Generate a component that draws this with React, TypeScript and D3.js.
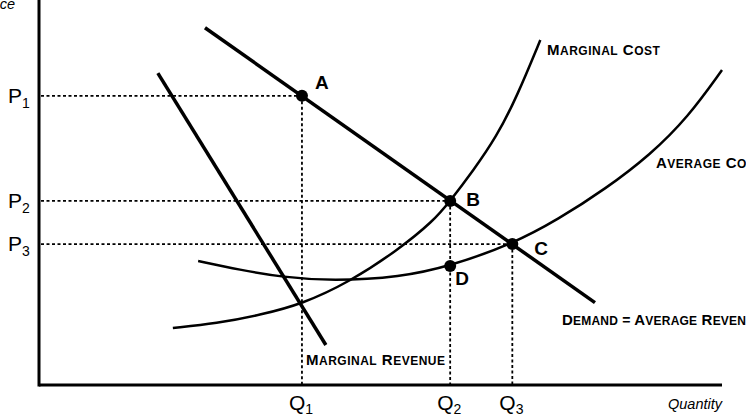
import React from "react";
import * as d3 from "d3";

const W = 746;
const H = 416;

// Economic units (quantity 0..10, price 0..10)
const quantityTicks = [
  { name: "Q", sub: "1", q: 3.85 },
  { name: "Q", sub: "2", q: 6.02 },
  { name: "Q", sub: "3", q: 6.93 },
];
const priceTicks = [
  { name: "P", sub: "1", p: 7.51 },
  { name: "P", sub: "2", p: 4.78 },
  { name: "P", sub: "3", p: 3.66 },
];
const pointD = 3.09;

const demandLine: [number, number][] = [
  [2.43, 9.28],
  [8.14, 2.14],
];
const marginalRevenue: [number, number][] = [
  [1.74, 8.1],
  [4.2, 1.04],
];
const marginalCost: [number, number][] = [
  [1.96, 1.48],
  [2.6, 1.6],
  [3.24, 1.82],
  [3.85, 2.1],
  [4.55, 2.68],
  [5.25, 3.5],
  [5.77, 4.25],
  [6.02, 4.78],
  [6.35, 5.55],
  [6.7, 6.45],
  [7.0, 7.5],
  [7.34, 8.96],
];
const averageCost: [number, number][] = [
  [2.33, 3.22],
  [2.94, 2.99],
  [3.57, 2.8],
  [4.3, 2.7],
  [5.29, 2.8],
  [6.02, 3.09],
  [6.93, 3.66],
  [7.6, 4.3],
  [8.3, 5.1],
  [8.95, 5.98],
  [9.5, 6.95],
  [10.0, 8.18],
];

const x = d3.scaleLinear().domain([0, 10]).range([39, 722]);
const y = d3.scaleLinear().domain([0, 10]).range([385, 0]);

const straight = d3
  .line<[number, number]>()
  .x((d) => x(d[0]))
  .y((d) => y(d[1]));
const smooth = d3
  .line<[number, number]>()
  .x((d) => x(d[0]))
  .y((d) => y(d[1]))
  .curve(d3.curveBasis);

const FONT = "'Liberation Sans', Arial, Helvetica, sans-serif";

function SmallCaps({
  text,
  x,
  y,
  spacing = 0.5,
}: {
  text: string;
  x: number;
  y: number;
  spacing?: number;
}) {
  const words = text.split(" ");
  const parts: React.ReactNode[] = [];
  words.forEach((w, i) => {
    const prefix = i > 0 ? " " : "";
    if (w === "=") {
      parts.push(
        <tspan key={i} fontSize={14}>
          {prefix + "="}
        </tspan>
      );
    } else {
      parts.push(
        <tspan key={i + "a"} fontSize={15}>
          {prefix + w[0].toUpperCase()}
        </tspan>
      );
      parts.push(
        <tspan key={i + "b"} fontSize={12}>
          {w.slice(1).toUpperCase()}
        </tspan>
      );
    }
  });
  return (
    <text
      x={x}
      y={y}
      fontFamily={FONT}
      fontWeight="bold"
      fill="#000"
      letterSpacing={spacing}
    >
      {parts}
    </text>
  );
}

export default function App() {
  const A = { q: quantityTicks[0].q, p: priceTicks[0].p, label: "A", dx: 13, dy: -7 };
  const B = { q: quantityTicks[1].q, p: priceTicks[1].p, label: "B", dx: 16, dy: 5 };
  const C = { q: quantityTicks[2].q, p: priceTicks[2].p, label: "C", dx: 22, dy: 11 };
  const D = { q: quantityTicks[1].q, p: pointD, label: "D", dx: 5, dy: 19 };
  const pts = [A, B, C, D];

  return (
    <svg
      width={W}
      height={H}
      style={{ position: "absolute", left: 0, top: 0, background: "#fff" }}
    >
      <rect width={W} height={H} fill="#fff" />
      {/* dotted guides */}
      <g stroke="#000" strokeWidth={1.8} strokeDasharray="3,2.5" fill="none">
        {[A, B, C].map((pt, i) => (
          <line key={"h" + i} x1={x(0) + 2} x2={x(pt.q)} y1={y(pt.p)} y2={y(pt.p)} />
        ))}
        {[A, B, C].map((pt, i) => (
          <line key={"v" + i} x1={x(pt.q)} x2={x(pt.q)} y1={y(pt.p)} y2={y(0)} />
        ))}
      </g>

      {/* curves */}
      <path d={smooth(averageCost) || ""} fill="none" stroke="#000" strokeWidth={2.5} />
      <path d={smooth(marginalCost) || ""} fill="none" stroke="#000" strokeWidth={2.5} />
      <path d={straight(marginalRevenue) || ""} fill="none" stroke="#000" strokeWidth={3.5} />
      <path d={straight(demandLine) || ""} fill="none" stroke="#000" strokeWidth={3.5} />

      {/* axes */}
      <line x1={x(0)} x2={x(0)} y1={0} y2={y(0) + 1.5} stroke="#000" strokeWidth={3} />
      <line x1={x(0)} x2={x(10)} y1={y(0)} y2={y(0)} stroke="#000" strokeWidth={3} />

      {/* points */}
      {pts.map((pt) => (
        <g key={pt.label}>
          <circle cx={x(pt.q)} cy={y(pt.p)} r={6} fill="#000" />
          <text
            x={x(pt.q) + pt.dx}
            y={y(pt.p) + pt.dy}
            fontFamily={FONT}
            fontWeight="bold"
            fontSize={19}
          >
            {pt.label}
          </text>
        </g>
      ))}

      {/* price tick labels */}
      {priceTicks.map((t) => (
        <text key={t.sub} x={8} y={y(t.p) + 7} fontFamily={FONT} fontSize={21}>
          {t.name}
          <tspan fontSize={14} dy={5}>
            {t.sub}
          </tspan>
        </text>
      ))}
      {/* quantity tick labels */}
      {quantityTicks.map((t) => (
        <text key={t.sub} x={x(t.q) - 13} y={410} fontFamily={FONT} fontSize={21}>
          {t.name}
          <tspan fontSize={14} dy={4}>
            {t.sub}
          </tspan>
        </text>
      ))}

      {/* axis titles */}
      <text x={15} y={9} textAnchor="end" fontFamily={FONT} fontStyle="italic" fontSize={14.5}>
        Price
      </text>
      <text x={722} y={409} textAnchor="end" fontFamily={FONT} fontStyle="italic" fontSize={14.5}>
        Quantity
      </text>

      {/* curve labels */}
      <SmallCaps text="Marginal Cost" x={547} y={55} />
      <SmallCaps text="Average Cost" x={656} y={168} />
      <SmallCaps text="Demand = Average Revenue" x={562} y={325} spacing={0.2} />
      <SmallCaps text="Marginal Revenue" x={306} y={365} />
    </svg>
  );
}
